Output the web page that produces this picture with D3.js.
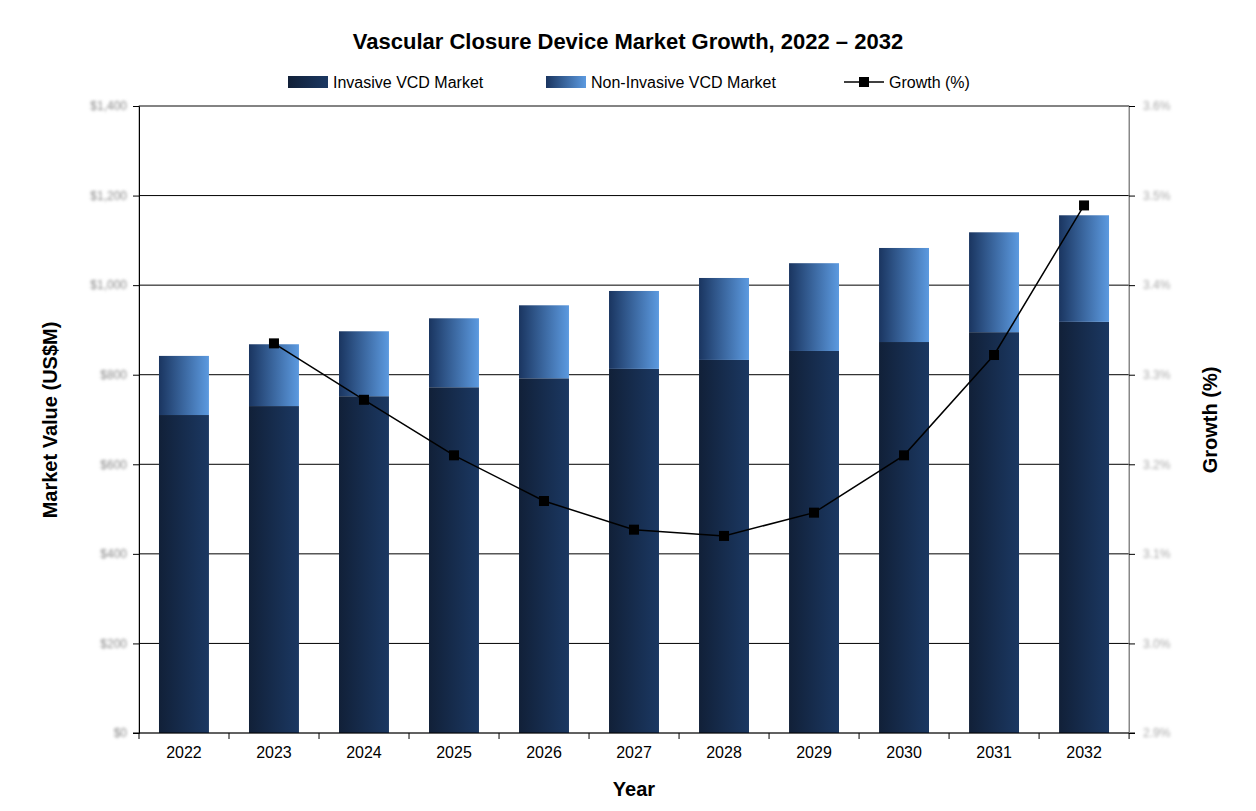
<!DOCTYPE html>
<html><head><meta charset="utf-8">
<script src="https://cdn.jsdelivr.net/npm/d3@7"></script>
<style>body{margin:0;background:#fff;font-family:Arial,"Liberation Sans",sans-serif;}</style>
</head><body><svg id="c" width="1256" height="811"></svg>
<script>
const years = ['2022','2023','2024','2025','2026','2027','2028','2029','2030','2031','2032'];
const invasive = [710, 730, 752, 772, 792, 813, 833, 853, 873, 895, 918];
const total = [842, 868, 897, 926, 955, 987, 1016, 1049, 1083, 1118, 1156];
const growthYears = ['2023','2024','2025','2026','2027','2028','2029','2030','2031','2032'];
const growth = [3.335, 3.272, 3.210, 3.159, 3.127, 3.120, 3.146, 3.210, 3.322, 3.489];
const leftTicks = [0, 200, 400, 600, 800, 1000, 1200, 1400];
const rightTicks = [2.9, 3.0, 3.1, 3.2, 3.3, 3.4, 3.5, 3.6];

const svg = d3.select('#c');
const m = {l: 139, r: 1129, t: 106, b: 733};
const x = d3.scaleBand().domain(years).range([m.l, m.r]).paddingInner(0.445).paddingOuter(0.222);
const y = d3.scaleLinear().domain([0, 1400]).range([m.b, m.t]);
const y2 = d3.scaleLinear().domain([2.9, 3.6]).range([m.b, m.t]);

const defs = svg.append('defs');
function grad(id, a, b) {
  const g = defs.append('linearGradient').attr('id', id);
  g.append('stop').attr('offset', '0%').attr('stop-color', a);
  g.append('stop').attr('offset', '100%').attr('stop-color', b);
}
grad('gInv', '#112038', '#1b3862');
grad('gNon', '#1a3560', '#5c9ae0');
defs.append('filter').attr('id', 'blur').append('feGaussianBlur').attr('stdDeviation', 1.6);

svg.append('text').attr('x', 628).attr('y', 49).attr('text-anchor', 'middle')
  .attr('font-size', 22).attr('font-weight', 'bold').text('Vascular Closure Device Market Growth, 2022 – 2032');

// legend
const lg = svg.append('g').attr('font-size', 16);
lg.append('rect').attr('x', 288).attr('y', 76).attr('width', 40).attr('height', 12).attr('fill', 'url(#gInv)');
lg.append('text').attr('x', 333).attr('y', 88).text('Invasive VCD Market');
lg.append('rect').attr('x', 546).attr('y', 76).attr('width', 40).attr('height', 12).attr('fill', 'url(#gNon)');
lg.append('text').attr('x', 591).attr('y', 88).text('Non-Invasive VCD Market');
lg.append('line').attr('x1', 844).attr('x2', 884).attr('y1', 82).attr('y2', 82).attr('stroke', '#000').attr('stroke-width', 1.5);
lg.append('rect').attr('x', 859).attr('y', 77).attr('width', 10).attr('height', 10).attr('fill', '#000');
lg.append('text').attr('x', 889).attr('y', 88).text('Growth (%)');

// grid
svg.append('g').selectAll('line').data(leftTicks.slice(1)).join('line')
  .attr('x1', m.l).attr('x2', m.r).attr('y1', d => y(d)).attr('y2', d => y(d))
  .attr('stroke', '#000').attr('stroke-width', 1);
svg.append('rect').attr('x', m.l).attr('y', m.t).attr('width', m.r - m.l).attr('height', m.b - m.t)
  .attr('fill', 'none').attr('stroke', '#888');

// bars
svg.append('g').selectAll('rect').data(years).join('rect')
  .attr('x', d => x(d)).attr('width', x.bandwidth())
  .attr('y', (d, i) => y(invasive[i])).attr('height', (d, i) => y(0) - y(invasive[i]))
  .attr('fill', 'url(#gInv)');
svg.append('g').selectAll('rect').data(years).join('rect')
  .attr('x', d => x(d)).attr('width', x.bandwidth())
  .attr('y', (d, i) => y(total[i])).attr('height', (d, i) => y(invasive[i]) - y(total[i]))
  .attr('fill', 'url(#gNon)');

// axes
const ax = svg.append('g').attr('transform', `translate(0,${m.b})`)
  .call(d3.axisBottom(x).tickSize(0).tickPadding(14));
ax.select('.domain').remove();
ax.selectAll('text').attr('font-size', 16).attr('fill', '#000').attr('font-family', 'Arial,"Liberation Sans",sans-serif');
svg.append('g').selectAll('line').data(d3.range(years.length + 1)).join('line')
  .attr('x1', i => m.l + i * x.step()).attr('x2', i => m.l + i * x.step())
  .attr('y1', m.b).attr('y2', m.b + 6).attr('stroke', '#000');
svg.append('line').attr('x1', m.l - 6).attr('x2', m.r + 6).attr('y1', m.b).attr('y2', m.b).attr('stroke', '#000');

const al = svg.append('g').attr('transform', `translate(${m.l},0)`)
  .call(d3.axisLeft(y).tickValues(leftTicks).tickSize(6).tickPadding(6).tickFormat(d => '$' + d3.format(',')(d)));
al.select('.domain').attr('stroke', '#000');
al.selectAll('line').attr('stroke', '#000');
al.selectAll('text').attr('font-size', 12).attr('fill', '#888').attr('filter', 'url(#blur)');
const ar = svg.append('g').attr('transform', `translate(${m.r},0)`)
  .call(d3.axisRight(y2).tickValues(rightTicks).tickSize(6).tickPadding(8).tickFormat(d => d.toFixed(1) + '%'));
ar.select('.domain').attr('stroke', '#888');
ar.selectAll('line').attr('stroke', '#000');
ar.selectAll('text').attr('font-size', 12).attr('fill', '#aaa').attr('filter', 'url(#blur)');

// growth line
const line = d3.line().x(d => x(d[0]) + x.bandwidth() / 2).y(d => y2(d[1]));
const pts = growthYears.map((d, i) => [d, growth[i]]);
svg.append('path').datum(pts).attr('d', line).attr('fill', 'none').attr('stroke', '#000').attr('stroke-width', 1.5);
svg.append('g').selectAll('rect').data(pts).join('rect')
  .attr('x', d => x(d[0]) + x.bandwidth() / 2 - 5).attr('y', d => y2(d[1]) - 5)
  .attr('width', 10).attr('height', 10).attr('fill', '#000');

// axis titles
svg.append('text').attr('x', 634).attr('y', 796).attr('text-anchor', 'middle').attr('font-size', 20).attr('font-weight', 'bold').text('Year');
svg.append('text').attr('transform', 'translate(57,420) rotate(-90)').attr('text-anchor', 'middle').attr('font-size', 20).attr('font-weight', 'bold').text('Market Value (US$M)');
svg.append('text').attr('transform', 'translate(1217,420) rotate(-90)').attr('text-anchor', 'middle').attr('font-size', 20).attr('font-weight', 'bold').text('Growth (%)');
</script></body></html>
